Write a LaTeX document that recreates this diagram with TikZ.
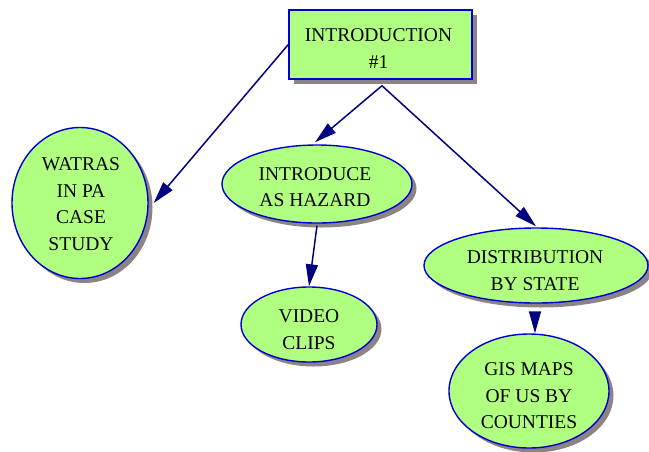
\documentclass[tikz,border=0pt]{standalone}
\usepackage{fontspec}
\setmainfont{Liberation Serif}
\usetikzlibrary{shapes.geometric,shadows,arrows.meta}

\definecolor{leafgreen}{HTML}{B0FF80}
\definecolor{rimblue}{HTML}{0000D0}
\definecolor{navyline}{HTML}{000080}
\definecolor{shadowgray}{HTML}{8C8484}

\tikzset{
  topic/.style={fill=leafgreen, draw=rimblue, line width=1.4pt,
    general shadow={fill=shadowgray, shadow xshift=4.5pt, shadow yshift=-4.5pt},
    inner sep=0pt},
  words/.style={align=center, inner sep=0pt,
    font=\fontsize{19.5}{26.5}\selectfont},
  titlebox/.style={topic, rectangle, minimum width=183pt, minimum height=69pt},
  bubble/.style={topic, ellipse},
  link/.style={draw=navyline, line width=1.5pt,
    -{Triangle[length=22pt,width=12pt]}}
}

\begin{document}
\begin{tikzpicture}[x=1pt,y=-1pt]
  \useasboundingbox (0,0) rectangle (649,451);

  % title box
  \node[titlebox, label={[words, xshift=-2pt, yshift=-4pt]center:INTRODUCTION\\ \#1}]
    (intro) at (380.5,44.5) {};

  % topic bubbles
  \node[bubble, minimum width=136pt, minimum height=151pt,
    label={[words, xshift=1pt, yshift=-1pt]center:WATRAS\\IN PA\\CASE\\STUDY}]
    (watras) at (80,203) {};
  \node[bubble, minimum width=190pt, minimum height=78pt,
    label={[words, xshift=-2pt, yshift=-3pt]center:INTRODUCE\\AS HAZARD}]
    (hazard) at (317,184) {};
  \node[bubble, minimum width=136pt, minimum height=75pt,
    label={[words, yshift=-5pt]center:VIDEO\\CLIPS}]
    (video) at (309,324.5) {};
  \node[bubble, minimum width=224pt, minimum height=75pt,
    label={[words, xshift=-1pt, yshift=-5pt]center:DISTRIBUTION\\BY STATE}]
    (dist) at (536,265.5) {};
  \node[bubble, minimum width=160pt, minimum height=114pt,
    label={[words, yshift=-5pt]center:GIS MAPS\\OF US BY\\COUNTIES}]
    (gis) at (529,391) {};

  % connectors
  \draw[link] (intro.west) -- ([xshift=5pt]watras.east);
  \draw[link] ([xshift=1.5pt,yshift=-6pt]intro.south) -- ([xshift=-2pt,yshift=2pt]hazard.north);
  \draw[link] ([xshift=1.5pt,yshift=-6pt]intro.south) -- ([yshift=1pt]dist.north);
  \draw[link] ([yshift=-2pt]hazard.south) -- (video.north);
  \draw[link] ([xshift=-1pt,yshift=-8pt]dist.south) -- ([xshift=6pt]gis.north);
\end{tikzpicture}
\end{document}
